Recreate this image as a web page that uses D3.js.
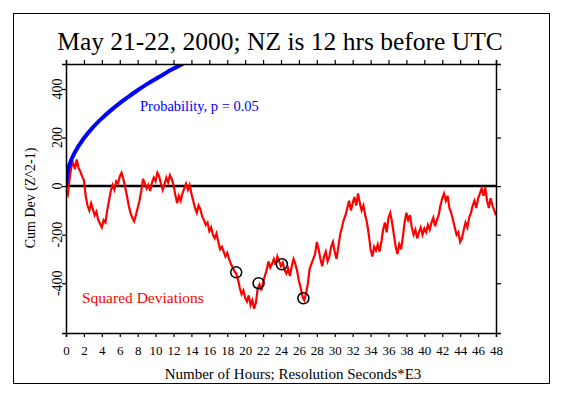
<!DOCTYPE html>
<html>
<head>
<meta charset="utf-8">
<script src="https://cdnjs.cloudflare.com/ajax/libs/d3/7.8.5/d3.min.js"></script>
<style>
body { margin: 0; background: #fff; }
text { font-family: "Liberation Serif", "DejaVu Serif", serif; }
</style>
</head>
<body>
<script>
// hours along the x axis, every 0.2 hr
var hourStep = 0.2;
// cumulative deviation (Z^2-1)
var cumDev = [
	-20, -35, 30, 80, 95, 70, 110, 75, 60, 40,
	25, -40, -80, -100, -70, -95, -120, -105, -140, -155,
	-170, -140, -150, -100, -60, -20, 5, -15, 20, 10,
	40, 55, 30, -5, -40, -80, -110, -130, -145, -120,
	-90, -60, -20, 30, 10, -10, 5, -20, 15, 35,
	20, 55, 40, 10, -15, 10, 35, 15, 45, 30,
	5, -35, -70, -40, -60, -30, -10, 10, -15, 5,
	-30, -60, -90, -110, -80, -95, -125, -140, -160, -150,
	-185, -170, -200, -215, -195, -230, -260, -250, -270, -290,
	-275, -300, -320, -335, -350, -360, -385, -420, -445, -430,
	-460, -475, -450, -490, -470, -505, -480, -420, -405, -430,
	-395, -370, -345, -310, -335, -320, -300, -325, -290, -310,
	-330, -315, -345, -360, -340, -370, -330, -300, -320, -350,
	-390, -420, -455, -470, -440, -400, -340, -320, -300, -280,
	-230, -260, -300, -330, -290, -270, -310, -290, -250, -230,
	-270, -300, -250, -200, -170, -140, -120, -90, -60, -100,
	-70, -45, -80, -30, -70, -100, -80, -120, -150, -200,
	-260, -290, -250, -265, -240, -270, -230, -180, -150, -190,
	-130, -110, -150, -200, -250, -280, -240, -260, -210, -150,
	-110, -140, -120, -170, -200, -180, -215, -190, -170, -200,
	-175, -190, -160, -180, -150, -130, -165, -140, -120, -80,
	-50, -30, -60, -40, -90, -110, -140, -170, -200, -190,
	-230, -215, -180, -150, -170, -130, -110, -80, -60, -90,
	-50, -30, -10, -40, -5, -60, -90, -50, -80, -100,
	-120
];
// p = 0.05 envelope
var probHours = [0, 0.25, 0.5, 1, 2, 3, 4, 5, 6, 7, 8, 9, 10, 11, 12, 13, 13.5];
var probValues = [0, 70, 100, 140, 197, 242, 279, 312, 342, 369, 395, 419, 441, 463, 484, 503, 513];
// marked events
var markHours = [19.0, 21.5, 24.1, 26.5];
var markValues = [-355, -400, -322, -462];

var xTicks = d3.range(0, 49, 2);
var yTicks = [-400, -200, 0, 200, 400];

function draw_chart(){
	var width = 563;
	var height = 396;
	var pLeft = 66, pRight = 496, pTop = 64, pBottom = 333;

	var svg = d3.select("body")
				.append("svg")
				.attr("width", width)
				.attr("height", height);

	// outer frame
	svg.append("rect")
		.attr("x", 13.5)
		.attr("y", 13.5)
		.attr("width", 536)
		.attr("height", 370)
		.attr("fill", "none")
		.attr("stroke", "black");

	var x = d3.scaleLinear()
			.domain([0, 48])
			.range([pLeft, pRight]);

	var y = d3.scaleLinear()
			.domain([-605, 503])
			.range([pBottom, pTop]);

	svg.append("defs").append("clipPath")
		.attr("id", "plot")
		.append("rect")
		.attr("x", pLeft)
		.attr("y", pTop)
		.attr("width", pRight - pLeft)
		.attr("height", pBottom - pTop);

	var plot = svg.append("g").attr("clip-path", "url(#plot)");

	// zero line
	plot.append("line")
		.attr("x1", pLeft)
		.attr("x2", pRight)
		.attr("y1", y(0))
		.attr("y2", y(0))
		.attr("stroke", "black")
		.attr("stroke-width", 2.5);

	var redLine = d3.line()
		.x(function(d, i){ return x(i * hourStep); })
		.y(function(d){ return y(d); });

	plot.append("path")
		.datum(cumDev)
		.attr("d", redLine)
		.attr("fill", "none")
		.attr("stroke", "#ff0000")
		.attr("stroke-width", 2.2);

	var blueLine = d3.line()
		.curve(d3.curveMonotoneX)
		.x(function(d, i){ return x(probHours[i]); })
		.y(function(d){ return y(d); });

	plot.append("path")
		.datum(probValues)
		.attr("d", blueLine)
		.attr("fill", "none")
		.attr("stroke", "#0000ff")
		.attr("stroke-width", 4);

	plot.selectAll("circle")
		.data(markHours)
		.enter()
			.append("circle")
			.attr("cx", function(d){ return x(d); })
			.attr("cy", function(d, i){ return y(markValues[i]); })
			.attr("r", 5.5)
			.attr("fill", "none")
			.attr("stroke", "black")
			.attr("stroke-width", 1.5);

	// axes
	var xAxis = d3.axisBottom(x).tickValues(xTicks).tickSize(4).tickPadding(9).tickFormat(d3.format("d"));
	var xTop = d3.axisTop(x).tickValues(xTicks).tickSize(4).tickFormat("");
	var yAxis = d3.axisLeft(y).tickValues(yTicks).tickSize(4).tickFormat("");
	var yRight = d3.axisRight(y).tickValues(yTicks).tickSize(5).tickFormat("");

	function style_axis(g){
		g.select(".domain").attr("stroke", "black").attr("stroke-width", 1.5);
		g.selectAll(".tick line").attr("stroke", "black").attr("stroke-width", 1.2);
		g.selectAll("text").attr("fill", "black").attr("font-size", "13px")
			.attr("font-family", "Liberation Serif, serif");
	}

	svg.append("g").attr("transform", "translate(0," + pBottom + ")").call(xAxis).call(style_axis);
	svg.append("g").attr("transform", "translate(0," + pTop + ")").call(xTop).call(style_axis);
	svg.append("g").attr("transform", "translate(" + pLeft + ",0)").call(yAxis).call(style_axis);
	svg.append("g").attr("transform", "translate(" + pRight + ",0)").call(yRight).call(style_axis);

	// rotated y tick labels
	svg.selectAll(".ylab")
		.data(yTicks)
		.enter()
			.append("text")
			.attr("class", "ylab")
			.attr("transform", function(d){ return "translate(62," + y(d) + ") rotate(-90)"; })
			.attr("text-anchor", "middle")
			.attr("font-size", "14px")
			.text(function(d){ return d; });

	svg.append("text")
		.attr("transform", "translate(35,198) rotate(-90)")
		.attr("text-anchor", "middle")
		.attr("font-size", "14px")
		.text("Cum Dev (Z^2-1)");

	svg.append("text")
		.attr("x", 293)
		.attr("y", 379)
		.attr("text-anchor", "middle")
		.attr("font-size", "15px")
		.text("Number of Hours; Resolution Seconds*E3");

	svg.append("text")
		.attr("x", 280)
		.attr("y", 50)
		.attr("text-anchor", "middle")
		.attr("font-size", "25.5px")
		.text("May 21-22, 2000; NZ is 12 hrs before UTC");

	svg.append("text")
		.attr("x", 140)
		.attr("y", 111)
		.attr("fill", "#0000ff")
		.attr("font-size", "14.5px")
		.text("Probability, p = 0.05");

	svg.append("text")
		.attr("x", 82)
		.attr("y", 303)
		.attr("fill", "#ff0000")
		.attr("font-size", "15.5px")
		.text("Squared Deviations");
}

draw_chart();
</script>
</body>
</html>
